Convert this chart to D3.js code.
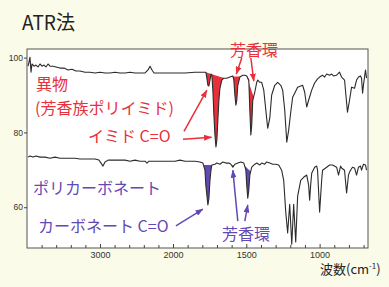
<!DOCTYPE html>
<html><head><meta charset="utf-8">
<script src="https://cdn.jsdelivr.net/npm/d3@7"></script>
<style>
html,body{margin:0;padding:0;background:#fbfbe9;}
svg{display:block;}
text{font-family:"Noto Sans CJK JP","Noto Sans",sans-serif;}
</style></head><body>
<svg id="c" width="389" height="287"></svg>
<script>
// ---- data (wavenumber cm-1, transmittance %) ----
const wnImide = [3986,3973,3959,3945,3932,3904,3877,3849,3822,3795,
 3767,3740,3712,3685,3644,3603,3548,3493,3438,3384,
 3329,3274,3205,3137,3068,3000,2931,2863,2794,2726,
 2657,2589,2520,2452,2383,2342,2315,2288,2260,2205,
 2109,2041,1986,1918,1850,1816,1782,1776,1769,1762,
 1755,1748,1741,1735,1728,1721,1714,1707,1701,1694,
 1687,1680,1667,1653,1633,1612,1592,1585,1578,1571,
 1565,1558,1544,1524,1510,1497,1483,1476,1469,1463,
 1456,1442,1429,1422,1408,1395,1381,1367,1354,1340,
 1327,1306,1286,1265,1252,1238,1224,1211,1197,1184,
 1170,1150,1116,1102,1088,1075,1054,1034,1014,1000,
 980,966,952,932,918,905,884,864,850,830,
 810,796,782,762,748,735,721,714,707,701,
 687,680];
const tImide = [97.7,98.8,100.1,96.1,98.3,97.7,98.0,97.5,98.3,97.7,
 98.0,97.5,98.3,97.7,97.7,97.5,97.2,97.2,96.7,96.9,
 96.4,96.4,96.1,96.1,95.9,96.1,95.9,95.9,96.1,95.9,
 95.9,96.1,95.9,95.9,95.9,96.7,97.7,96.7,95.9,95.9,
 95.9,95.9,95.9,95.9,96.1,96.1,96.1,96.1,94.5,92.6,
 92.4,94.0,95.6,95.3,91.3,84.6,79.3,76.1,77.9,83.3,
 88.6,91.8,94.0,94.5,94.5,94.8,95.1,94.0,90.0,87.3,
 88.6,92.6,94.8,95.3,95.3,95.1,94.0,86.0,79.3,82.0,
 88.6,90.8,93.4,94.0,93.4,93.4,91.3,86.0,81.1,83.8,
 90.0,92.6,93.4,92.6,91.3,86.0,77.4,80.6,85.4,89.4,
 90.5,92.1,92.6,90.8,86.8,88.6,91.3,93.2,94.3,94.8,
 95.3,94.8,95.6,95.3,95.6,95.1,95.3,96.1,94.8,94.0,
 85.4,88.6,92.1,91.8,94.0,94.8,95.1,94.5,90.5,92.6,
 96.7,94.5];
const wnPC = [3986,3959,3918,3877,3822,3753,3685,3616,3548,3479,
 3411,3342,3274,3205,3137,3068,3014,2986,2959,2931,
 2890,2794,2726,2657,2589,2520,2452,2383,2356,2329,
 2247,2178,2109,2041,1986,1952,1918,1884,1850,1816,
 1796,1782,1776,1762,1755,1748,1741,1735,1714,1701,
 1680,1660,1639,1619,1605,1592,1578,1558,1537,1517,
 1503,1497,1490,1483,1476,1463,1442,1429,1408,1395,
 1374,1361,1340,1320,1299,1279,1259,1245,1231,1218,
 1204,1190,1177,1163,1150,1129,1109,1088,1075,1068,
 1061,1054,1034,1020,1014,1000,986,980,952,932,
 912,884,871,857,850,830,816,803,796,776,
 762,748,735,721,714,701,687,680];
const tPC = [73.4,73.7,73.4,73.7,73.4,73.4,73.1,73.4,73.1,73.1,
 73.1,73.1,72.9,72.9,72.9,72.9,72.6,71.8,71.0,72.1,
 72.6,72.6,72.6,72.6,72.3,72.6,72.3,72.3,71.8,72.3,
 72.3,72.3,72.3,72.3,72.3,72.6,72.3,72.3,72.3,72.1,
 71.8,69.9,65.9,60.6,62.4,67.2,69.9,71.3,71.5,71.8,
 71.5,72.1,71.8,71.8,71.5,70.7,71.5,71.8,72.1,71.8,
 69.9,65.9,62.4,64.6,68.6,70.7,71.5,71.8,71.3,71.8,
 71.5,72.1,71.8,71.5,71.5,71.3,69.9,67.2,58.7,53.1,
 60.8,50.1,60.8,50.7,62.9,67.2,68.0,68.6,65.9,61.9,
 65.9,69.1,70.7,71.0,69.9,58.7,67.2,69.9,70.7,71.3,
 71.3,70.7,68.6,71.0,70.5,69.9,63.8,68.6,69.4,70.7,
 70.5,68.6,70.7,71.0,69.9,71.5,71.3,69.9];
const imideFills = [[1778,1648],[1600,1538],[1499,1450]];
const pcFills = [[1792,1735],[1600,1582],[1512,1470]];
const xMajorTicks = [3000,2000,1500,1000];
const xMinorTicks = [3800,3600,3400,3200,2800,2600,2400,2200,1900,1800,1700,1600,1400,1300,1200,1100,900,800,700];
const yTicks = [100,80,60];

// ---- layout ----
const RED = "#e8303c", PURPLE = "#6448b4";
const L = 27, R = 368, TOP = 49, B = 248;
const svg = d3.select("#c");
const x = d3.scaleLinear().domain([4000,2000,670]).range([L,173,R]);
const y = d3.scaleLinear().domain([49.1,102.3]).range([B,TOP]);

const defs = svg.append("defs");
[["r",RED],["p",PURPLE]].forEach(([id,c])=>{
  defs.append("marker").attr("id","ah"+id).attr("viewBox","0 0 8 6")
    .attr("refX",7.5).attr("refY",3).attr("markerWidth",8).attr("markerHeight",6)
    .attr("markerUnits","userSpaceOnUse").attr("orient","auto")
    .append("path").attr("d","M0,0 L8,3 L0,6 Z").attr("fill",c);
});

// title
svg.append("text").attr("x",22).attr("y",30).attr("font-size",20)
  .attr("fill","#222").attr("textLength",53).attr("lengthAdjust","spacingAndGlyphs").text("ATR法");

// plot area
svg.append("rect").attr("x",L).attr("y",TOP).attr("width",R-L).attr("height",B-TOP)
  .attr("fill","#fff").attr("stroke","#555").attr("stroke-width",1);

// axes
const fmt = d3.format("d");
const gx = svg.append("g").attr("transform",`translate(0,${B})`)
  .call(d3.axisBottom(x).tickValues(xMajorTicks).tickSize(-4).tickPadding(4).tickFormat(fmt));
const gxm = svg.append("g").attr("transform",`translate(0,${B})`)
  .call(d3.axisBottom(x).tickValues(xMinorTicks).tickSize(-3).tickFormat(""));
const gy = svg.append("g").attr("transform",`translate(${L},0)`)
  .call(d3.axisLeft(y).tickValues(yTicks).tickSize(3).tickPadding(1).tickFormat(fmt));
[gx,gxm,gy].forEach(g=>{
  g.select(".domain").remove();
  g.selectAll("line").attr("stroke","#444");
  g.selectAll("text").attr("fill","#333").style("font-family","'Liberation Sans',Arial,sans-serif");
});
gx.selectAll("text").attr("font-size",9);
gy.selectAll("text").attr("font-size",8.5);

// axis title
const at = svg.append("text").attr("x",320).attr("y",274).attr("font-size",13).attr("fill","#222");
at.append("tspan").text("波数(cm");
at.append("tspan").attr("font-size",8).attr("dy",-5).text("-1");
at.append("tspan").attr("dy",5).text(")");

// helpers
function tAt(w, ws, ts){
  for(let i=0;i<ws.length-1;i++){
    if(ws[i]>=w && w>=ws[i+1]){
      const f=(ws[i]-w)/(ws[i]-ws[i+1]); return ts[i]+f*(ts[i+1]-ts[i]);
    }
  }
  return ts[ts.length-1];
}
function drawFills(ws, ts, ranges, color){
  ranges.forEach(([w1,w2])=>{
    const t1=tAt(w1,ws,ts), t2=tAt(w2,ws,ts);
    const pts=[w1].concat(ws.filter(w=>w<w1&&w>w2)).concat([w2]);
    const area=d3.area()
      .x(w=>x(w))
      .y0(w=>y(t1+(w1-w)/(w1-w2)*(t2-t1)))
      .y1(w=>y(tAt(w,ws,ts)));
    svg.append("path").attr("d",area(pts)).attr("fill",color).attr("stroke","none");
  });
}
function drawLine(ws, ts){
  const line=d3.line().x(i=>x(ws[i])).y(i=>y(ts[i]));
  svg.append("path").attr("d",line(d3.range(ws.length)))
    .attr("fill","none").attr("stroke","#2b2b2b").attr("stroke-width",1.1).attr("stroke-linejoin","round");
}

drawFills(wnImide,tImide,imideFills,RED);
drawFills(wnPC,tPC,pcFills,PURPLE);
drawLine(wnImide,tImide);
drawLine(wnPC,tPC);

// annotations
function label(txt,px,py,c){
  svg.append("text").attr("x",px).attr("y",py).attr("font-size",16).attr("fill",c).text(txt);
}
function arrow(a,b,c,id){
  svg.append("line").attr("x1",x(a[0])).attr("y1",y(a[1])).attr("x2",x(b[0])).attr("y2",y(b[1]))
    .attr("stroke",c).attr("stroke-width",1.5).attr("marker-end",`url(#ah${id})`);
}
label("異物",36,89.5,RED);
label("(芳香族ポリイミド)",35,113.5,RED);
label("イミド C=O",88,142,RED);
label("芳香環",230,56,RED);
label("ポリカーボネート",33,194,PURPLE);
label("カーボネート C=O",38,232,PURPLE);
label("芳香環",222,240,PURPLE);

arrow([1925,80.3],[1769,91.3],RED,"r");
arrow([1932,78.2],[1737,78.7],RED,"r");
arrow([1531,99.9],[1568,95.6],RED,"r");
arrow([1469,99.9],[1449,93.7],RED,"r");
arrow([1980,55.0],[1796,59.5],PURPLE,"p");
arrow([1558,56.3],[1592,69.9],PURPLE,"p");
arrow([1510,56.3],[1490,60.6],PURPLE,"p");
</script>
</body></html>
